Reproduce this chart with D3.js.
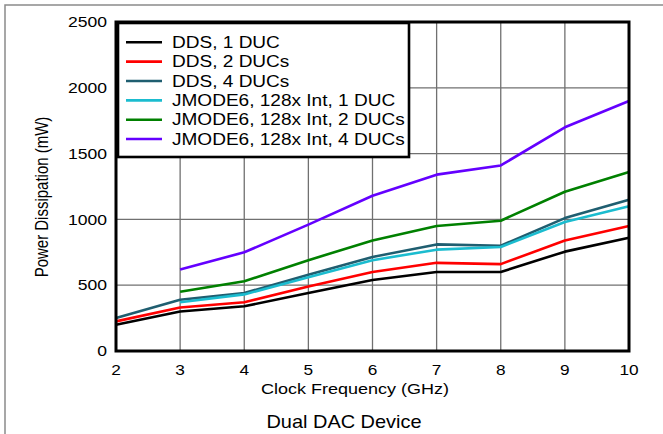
<!DOCTYPE html>
<html><head><meta charset="utf-8">
<script src="https://cdn.jsdelivr.net/npm/d3@7/dist/d3.min.js"></script>
<style>
body{margin:0;background:#fff;}
svg text{font-family:"Liberation Sans",Arial,sans-serif;fill:#000;}
</style></head>
<body>
<svg id="c" width="663" height="434"></svg>
<script>
const xTicks = [2,3,4,5,6,7,8,9,10];
const yTicks = [0,500,1000,1500,2000,2500];
const seriesNames = ["DDS, 1 DUC","DDS, 2 DUCs","DDS, 4 DUCs","JMODE6, 128x Int, 1 DUC","JMODE6, 128x Int, 2 DUCs","JMODE6, 128x Int, 4 DUCs"];
const seriesColors = ["#000000","#ff0000","#1f5e70","#1bbccf","#008000","#6400ff"];
const freqA = [2,3,4,5,6,7,8,9,10];
const freqB = [3,4,5,6,7,8,9,10];
const dds1 = [200,300,340,440,540,600,600,755,860];
const dds2 = [225,330,370,490,600,670,660,840,950];
const dds4 = [250,390,440,580,715,810,800,1010,1150];
const jm1 = [370,430,560,690,770,790,980,1100];
const jm2 = [450,530,690,840,950,990,1210,1360];
const jm4 = [620,750,960,1180,1340,1410,1700,1900];
const seriesValues = [dds1,dds2,dds4,jm1,jm2,jm4];
const seriesX = [freqA,freqA,freqA,freqB,freqB,freqB];

const svg = d3.select("#c");
const L=116,R=629,T=22,B=351;
const x = d3.scaleLinear().domain([2,10]).range([L,R]);
const y = d3.scaleLinear().domain([0,2500]).range([B,T]);

// text helper: horizontally stretched text anchored at (px,py)
function stext(g, px, py, str, size, sx, anchor){
  return g.append("text").attr("transform",`translate(${px},${py}) scale(${sx},1)`)
    .attr("dy","0.35em").attr("text-anchor",anchor).attr("font-size",size).text(str);
}

// outer frame
svg.append("rect").attr("x",5).attr("y",5).attr("width",700).attr("height",500)
  .attr("fill","none").attr("stroke","#8a8a8a").attr("stroke-width",1.5);

// grid
svg.append("g").selectAll("line").data(xTicks.slice(1,-1)).join("line")
  .attr("x1",d=>x(d)).attr("x2",d=>x(d)).attr("y1",T).attr("y2",B)
  .attr("stroke","#707070").attr("stroke-width",1.3);
svg.append("g").selectAll("line").data(yTicks.slice(1,-1)).join("line")
  .attr("y1",d=>y(d)).attr("y2",d=>y(d)).attr("x1",L).attr("x2",R)
  .attr("stroke","#707070").attr("stroke-width",1.3);

// lines
const line = d3.line();
seriesValues.forEach((vals,i)=>{
  svg.append("path")
    .attr("d", line(vals.map((v,j)=>[x(seriesX[i][j]), y(v)])))
    .attr("fill","none").attr("stroke",seriesColors[i]).attr("stroke-width",2.6)
    .attr("stroke-linejoin","round");
});

// plot border
svg.append("rect").attr("x",L).attr("y",T).attr("width",R-L).attr("height",B-T)
  .attr("fill","none").attr("stroke","#000").attr("stroke-width",3);

// tick labels
const yt = svg.append("g");
yTicks.forEach(d=>stext(yt, L-9, y(d), d, 15, 1.17, "end"));
const xt = svg.append("g");
xTicks.forEach(d=>stext(xt, x(d), B+19, d, 15, 1.15, "middle"));

// axis titles
stext(svg, 355, 389, "Clock Frequency (GHz)", 15, 1.2, "middle");
svg.append("text").attr("transform",`translate(42,197) rotate(-90) scale(1,1.2)`)
  .attr("dy","0.35em").attr("text-anchor","middle").attr("font-size",15).text("Power Dissipation (mW)");
stext(svg, 344, 421, "Dual DAC Device", 19, 1.05, "middle");

// legend
const lg = svg.append("g");
lg.append("rect").attr("x",118).attr("y",23).attr("width",291).attr("height",134)
  .attr("fill","#fff").attr("stroke","#000").attr("stroke-width",2.6);
seriesNames.forEach((n,i)=>{
  const cy = 42.3 + i*19.35;
  lg.append("line").attr("x1",126).attr("x2",162).attr("y1",cy).attr("y2",cy)
    .attr("stroke",seriesColors[i]).attr("stroke-width",2.6);
  stext(lg, 172, cy, n, 16, 1.19, "start");
});
</script>
</body></html>
